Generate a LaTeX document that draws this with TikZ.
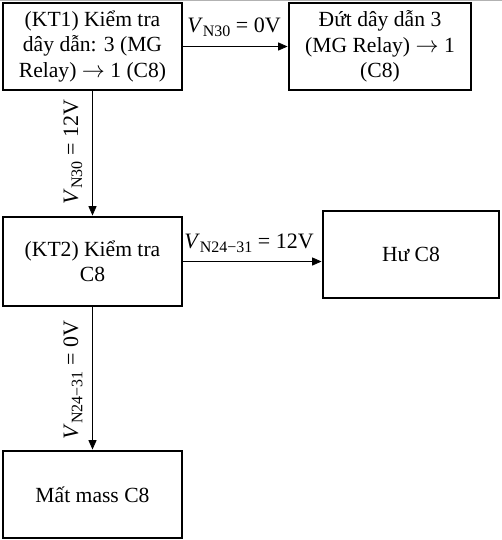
\documentclass[tikz,border=0pt]{standalone}
\usepackage{fontspec}
\setmainfont{Liberation Serif}
\usetikzlibrary{arrows.meta}
\newcommand{\sub}[1]{\raisebox{-0.4ex}{\fontsize{12}{12}\selectfont #1}}
\newcommand{\rarr}{$\rightarrow$}
\begin{document}
\begin{tikzpicture}[x=0.75pt,y=-0.75pt,
  box/.style={draw,line width=2.2pt,align=center,inner sep=2pt,
    font=\fontsize{16.2}{19}\selectfont,minimum height=65.25pt},
  conn/.style={line width=0.6pt,-{Triangle[length=7pt,width=6pt]}},
  lbl/.style={font=\fontsize{16.5}{17}\selectfont,inner sep=0pt}]
\useasboundingbox (0,0) rectangle (502,540);
\draw[gray!60,line width=0.8pt] (0,0.5) -- (502,0.5);
\node[box,minimum width=134.25pt] (kt1) at (92.5,46.5) {(KT1) Kiểm tra\\dây dẫn: 3 (MG\\Relay) \rarr{} 1 (C8)};
\node[box,minimum width=136.5pt] (dut) at (380,46.5) {Đứt dây dẫn 3\\(MG Relay) \rarr{} 1\\(C8)};
\node[box,minimum width=134.25pt,minimum height=66.75pt] (kt2) at (92.5,261.5) {(KT2) Kiểm tra\\C8};
\node[box,minimum width=132pt] (hu) at (411,254.5) {Hư C8};
\node[box,minimum width=134.25pt] (mat) at (92.5,494.5) {Mất mass C8};
\draw[conn] (kt1.east) -- (dut.west);
\draw[conn] (kt1.south) -- (kt2.north);
\draw[conn] (kt2.east) -- (kt2.east -| hu.west);
\draw[conn] (kt2.south) -- (mat.north);
\node[lbl] (l1) at (234,27) {\textit{V}\sub{N30} = 0V};
\node[lbl,rotate=90] (l2) at (73,152) {\textit{V}\sub{N30} = 12V};
\node[lbl] (l3) at (249,243) {\textit{V}\sub{N24−31} = 12V};
\node[lbl,rotate=90] (l4) at (73,380) {\textit{V}\sub{N24−31} = 0V};
\end{tikzpicture}
\end{document}
